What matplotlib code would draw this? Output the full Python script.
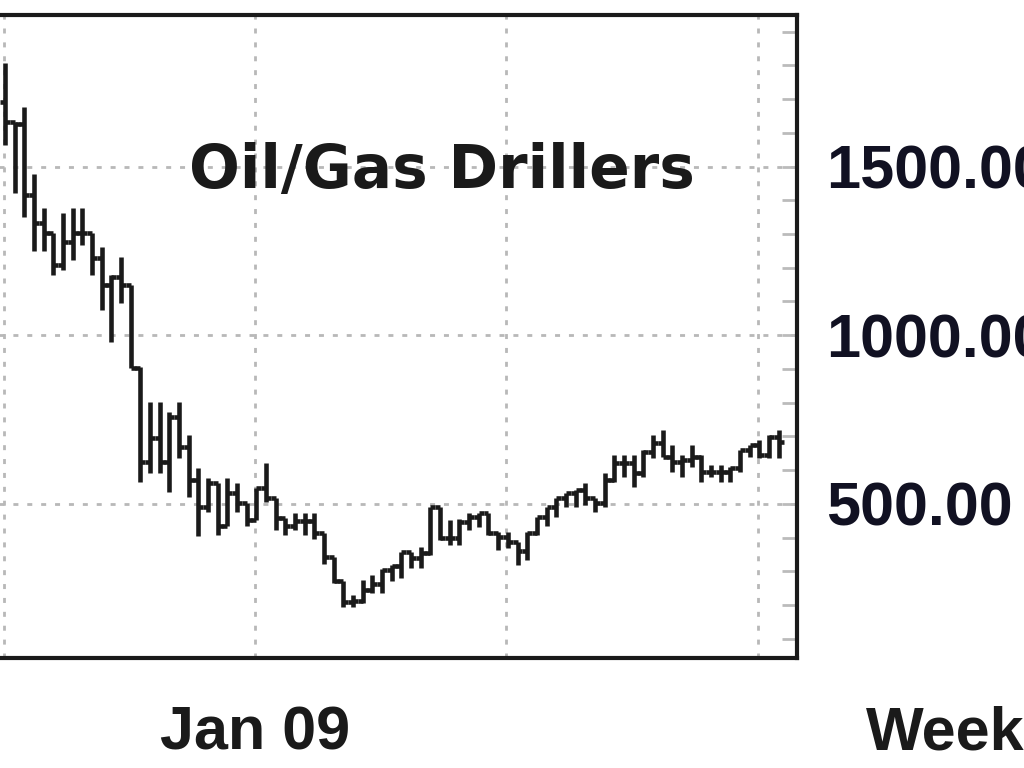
import matplotlib
matplotlib.use("Agg")
import matplotlib.pyplot as plt
import matplotlib.dates as mdates
import pandas as pd

# weekly bars, Jul 2008 - Jan 2010
weeks = pd.date_range("2008-07-03", periods=81, freq="7D")

opens = [1691, 1632, 1625, 1416, 1333, 1303, 1208, 1276, 1303, 1303,
         1229, 1149, 1173, 1149, 903, 624, 696, 624, 758, 669,
         571, 491, 562, 435, 533, 503, 452, 547, 518, 458,
         435, 450, 450, 414, 343, 272, 209, 212, 245, 263,
         304, 316, 358, 340, 355, 491, 399, 399, 447, 461,
         473, 414, 402, 387, 361, 414, 461, 491, 518, 533,
         541, 518, 503, 571, 621, 621, 592, 654, 681, 639,
         624, 630, 639, 595, 595, 595, 607, 660, 675, 645,
         698]
highs = [1807, 1632, 1677, 1478, 1377, 1303, 1362, 1377, 1377, 1303,
         1262, 1179, 1232, 1149, 906, 802, 802, 773, 802, 704,
         607, 577, 562, 577, 562, 503, 547, 621, 518, 458,
         473, 473, 473, 414, 343, 272, 230, 275, 290, 307,
         319, 358, 358, 372, 491, 491, 452, 455, 473, 473,
         473, 417, 417, 387, 417, 461, 491, 518, 533, 541,
         562, 518, 592, 645, 645, 645, 660, 704, 719, 675,
         645, 675, 645, 616, 616, 610, 660, 675, 690, 704,
         719]
lows = [1564, 1422, 1351, 1250, 1250, 1179, 1193, 1223, 1268, 1179,
        1075, 980, 1096, 903, 565, 592, 592, 535, 636, 521,
        405, 476, 408, 435, 476, 435, 452, 506, 423, 408,
        423, 408, 396, 322, 266, 195, 195, 206, 236, 236,
        272, 281, 310, 310, 349, 393, 378, 378, 423, 432,
        408, 364, 370, 319, 334, 408, 435, 461, 491, 491,
        497, 476, 491, 565, 580, 550, 580, 636, 639, 595,
        580, 610, 565, 580, 565, 565, 595, 639, 636, 636,
        636]
closes = [1632, 1625, 1416, 1333, 1303, 1208, 1276, 1303, 1303, 1229,
          1149, 1173, 1149, 903, 624, 696, 624, 758, 669, 571,
          491, 562, 435, 533, 503, 452, 547, 518, 458, 435,
          450, 450, 414, 343, 272, 209, 212, 245, 263, 304,
          316, 358, 340, 355, 491, 399, 399, 447, 461, 473,
          414, 402, 387, 361, 414, 461, 491, 518, 533, 541,
          518, 503, 571, 621, 621, 592, 654, 681, 639, 624,
          630, 639, 595, 595, 595, 607, 660, 675, 645, 698,
          684]

grid_dates = pd.to_datetime(["2008-07-02", "2008-12-31", "2009-07-01", "2009-12-30"])
grid_labels = ["", "Jan 09", "", ""]
y_ticks = [500, 1000, 1500]
y_labels = ["500.00", "1000.00", "1500.00"]

ink = "#1a1a1a"
label_font = dict(family=["Liberation Sans", "DejaVu Sans"], weight="bold", size=44)

fig = plt.figure(figsize=(10.24, 7.68), dpi=100)
ax = fig.add_axes([-30 / 1024, 110 / 768, 827 / 1024, 643 / 768])

x = mdates.date2num(weeks)
half = 3.6
ax.vlines(x, lows, highs, color=ink, lw=3.3)
ax.hlines(opens, x - half, x, color=ink, lw=3.3)
ax.hlines(closes, x, x + half, color=ink, lw=3.3)

ax.set_xlim(x[0] - 25.3, x[0] + 573.3)
ax.set_ylim(43.5, 1949)

ax.set_xticks(mdates.date2num(grid_dates))
ax.set_xticklabels(grid_labels, fontdict=label_font, color=ink)
ax.set_yticks(y_ticks)
ax.set_yticklabels(y_labels, fontdict=label_font, color="#111122")
ax.set_yticks(range(100, 2000, 100), minor=True)

ax.yaxis.tick_right()
ax.tick_params(axis="x", length=0, pad=34)
ax.tick_params(axis="y", which="both", direction="in", length=11, width=2,
               color="#bbbbbb", pad=21)

ax.grid(True, which="major", color="#b8b8b8", lw=2, linestyle=(0, (1.8, 3.2)))
ax.set_axisbelow(True)

for s in ax.spines.values():
    s.set_linewidth(3)
    s.set_color(ink)

fig.text(442 / 1024, 1 - 188 / 768, "Oil/Gas Drillers", ha="center", va="baseline",
         fontsize=43, weight="bold", family="DejaVu Sans", color=ink)
fig.text(866 / 1024, 1 - 750 / 768, "Weekly", ha="left", va="baseline",
         color=ink, **label_font)

fig.savefig("out.png", dpi=100, facecolor="white")
